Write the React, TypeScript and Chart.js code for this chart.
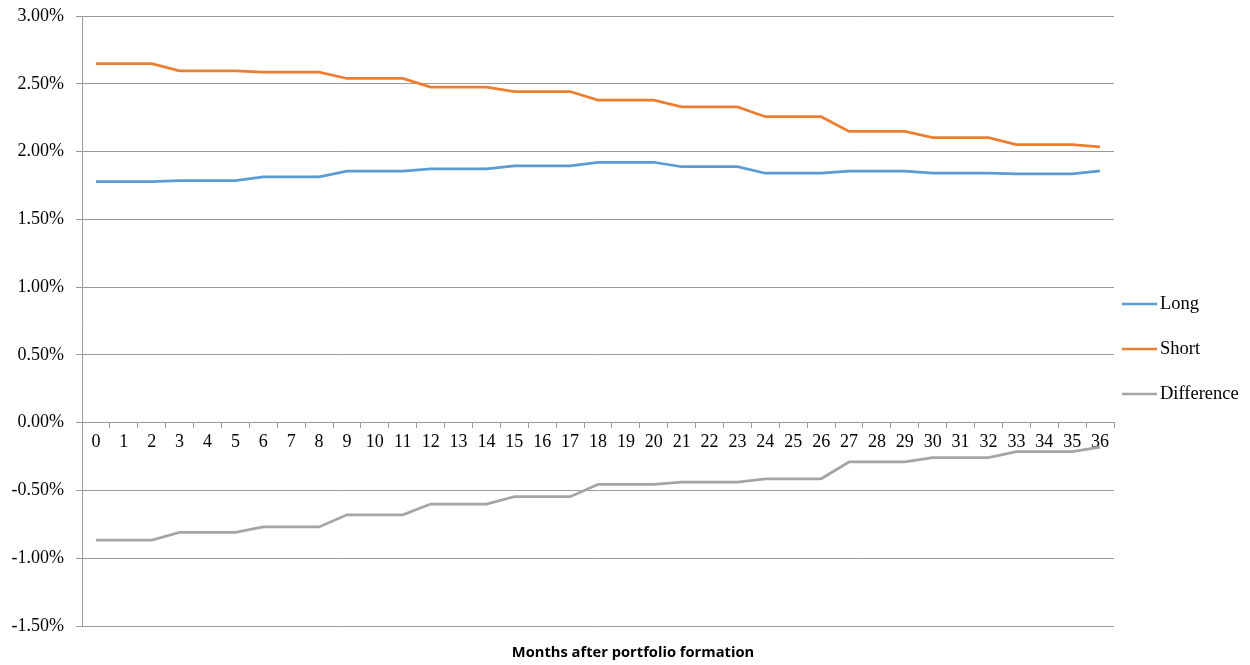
import React, { useEffect, useRef } from "react";
import { Chart, registerables } from "chart.js";

Chart.register(...registerables);

// Months after portfolio formation
const months = [
  "0", "1", "2", "3", "4", "5", "6", "7", "8", "9", "10", "11", "12",
  "13", "14", "15", "16", "17", "18", "19", "20", "21", "22", "23", "24",
  "25", "26", "27", "28", "29", "30", "31", "32", "33", "34", "35", "36",
];

// Average monthly returns, in percent
const longReturns = [
  1.779, 1.779, 1.779, 1.785, 1.785, 1.785, 1.814, 1.814, 1.814, 1.855, 1.855, 1.855,
  1.873, 1.873, 1.873, 1.895, 1.895, 1.895, 1.921, 1.921, 1.921, 1.888, 1.888, 1.888,
  1.840, 1.840, 1.840, 1.855, 1.855, 1.855, 1.840, 1.840, 1.840, 1.836, 1.836, 1.836,
  1.858,
];

const shortReturns = [
  2.649, 2.649, 2.649, 2.596, 2.596, 2.596, 2.586, 2.586, 2.586, 2.539, 2.539, 2.539,
  2.476, 2.476, 2.476, 2.443, 2.443, 2.443, 2.380, 2.380, 2.380, 2.329, 2.329, 2.329,
  2.257, 2.257, 2.257, 2.149, 2.149, 2.149, 2.103, 2.103, 2.103, 2.051, 2.051, 2.051,
  2.035,
];

const differenceReturns = [
  -0.866, -0.866, -0.866, -0.809, -0.809, -0.809, -0.769, -0.769, -0.769, -0.680, -0.680, -0.680,
  -0.600, -0.600, -0.600, -0.546, -0.546, -0.546, -0.456, -0.456, -0.456, -0.438, -0.438, -0.438,
  -0.414, -0.414, -0.414, -0.290, -0.290, -0.290, -0.258, -0.258, -0.258, -0.213, -0.213, -0.213,
  -0.180,
];

const seriesNames = ["Long", "Short", "Difference"];
const seriesColors = ["#5B9BD5", "#ED7D31", "#A5A5A5"];

const yMin = -1.5;
const yMax = 3.0;
const yStep = 0.5;

const axisTitle = "Months after portfolio formation";

const serif = '"Liberation Serif", "Times New Roman", serif';
const gridColor = "#9a9a9a";

// Legend on the right and the x-axis title centred under the chart
const overlayPlugin = {
  id: "overlay",
  afterDraw(chart: any) {
    const { ctx, chartArea } = chart;
    ctx.save();
    const lineX0 = chartArea.right + 8;
    const lineX1 = chartArea.right + 43;
    const firstY = chartArea.top + 288;
    const gap = 45;
    chart.data.datasets.forEach((ds: any, i: number) => {
      const y = firstY + i * gap;
      ctx.strokeStyle = ds.borderColor;
      ctx.lineWidth = 2.5;
      ctx.beginPath();
      ctx.moveTo(lineX0, y);
      ctx.lineTo(lineX1, y);
      ctx.stroke();
      ctx.fillStyle = "#000";
      ctx.font = `18.5px ${serif}`;
      ctx.textAlign = "left";
      ctx.textBaseline = "middle";
      ctx.fillText(ds.label, lineX1 + 3, y);
    });
    ctx.font = 'bold 14.7px "Open Sans", "Liberation Sans", sans-serif';
    ctx.textAlign = "center";
    ctx.textBaseline = "middle";
    ctx.fillStyle = "#000";
    ctx.fillText(axisTitle, 633, chart.height - 12);
    ctx.restore();
  },
};

export default function App() {
  const canvasRef = useRef<HTMLCanvasElement | null>(null);

  useEffect(() => {
    if (!canvasRef.current) return;
    const seriesData = [longReturns, shortReturns, differenceReturns];
    const chart = new Chart(canvasRef.current, {
      type: "line",
      data: {
        labels: months,
        datasets: seriesNames.map((name, i) => ({
          label: name,
          data: seriesData[i],
          borderColor: seriesColors[i],
          backgroundColor: seriesColors[i],
          borderWidth: 2.75,
          pointRadius: 0,
          pointHoverRadius: 0,
          tension: 0,
          fill: false,
        })),
      },
      options: {
        animation: false,
        responsive: false,
        maintainAspectRatio: false,
        layout: { padding: { left: 0, top: 16, right: 136, bottom: 39 } },
        plugins: {
          legend: { display: false },
          title: { display: false },
          tooltip: { enabled: false },
        },
        scales: {
          x: {
            type: "category",
            position: { y: 0 },
            offset: true,
            grid: {
              display: true,
              drawOnChartArea: false,
              drawTicks: true,
              tickLength: 5,
              offset: true,
              color: gridColor,
            },
            border: { display: true, color: gridColor, width: 1 },
            ticks: {
              color: "#000",
              font: { family: serif, size: 18 },
              padding: 4,
              maxRotation: 0,
              minRotation: 0,
              autoSkip: false,
            },
          },
          y: {
            min: yMin,
            max: yMax,
            grid: {
              color: gridColor,
              drawTicks: true,
              tickLength: 6,
            },
            border: { display: true, color: gridColor, width: 1 },
            ticks: {
              stepSize: yStep,
              color: "#000",
              font: { family: serif, size: 18 },
              padding: 12,
              callback: (v: any) => `${Number(v).toFixed(2)}%`,
            },
            afterFit: (scale: any) => {
              scale.width = 82;
              scale.paddingTop = 0;
              scale.paddingBottom = 0;
            },
          },
        },
      },
      plugins: [overlayPlugin],
    });
    return () => chart.destroy();
  }, []);

  return (
    <div style={{ position: "fixed", left: 0, top: 0, width: 1250, height: 665, background: "#fff" }}>
      <canvas ref={canvasRef} width={1250} height={665} style={{ display: "block" }} />
    </div>
  );
}
